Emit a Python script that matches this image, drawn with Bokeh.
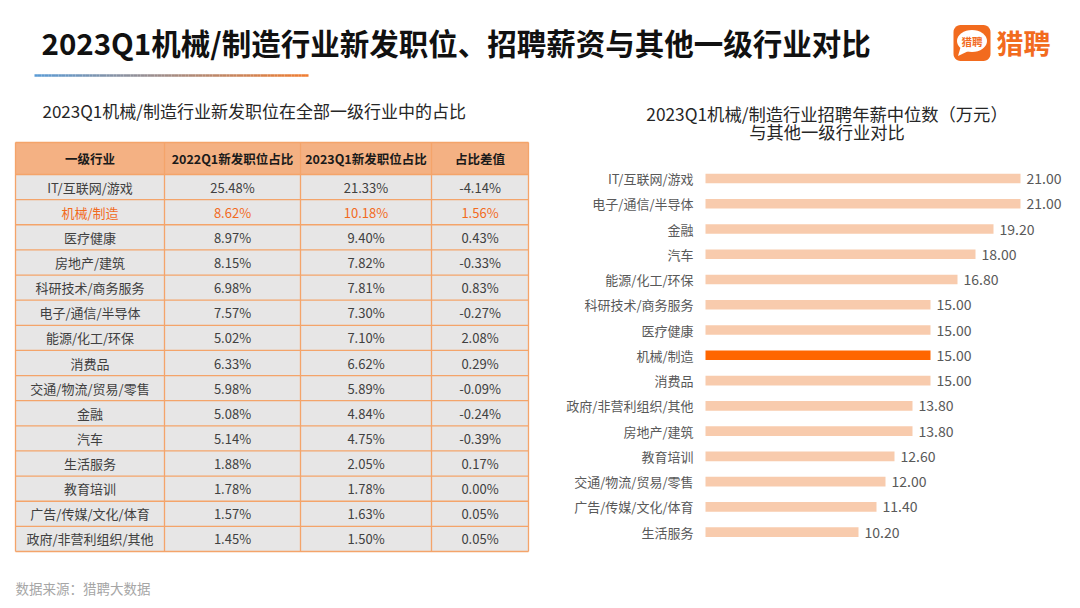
from bokeh.plotting import figure
from bokeh.models import ColumnDataSource, Range1d
from bokeh.layouts import column, row
from bokeh.embed import file_html
from bokeh.resources import INLINE
from bokeh.core.properties import value
import numpy as np

FONT = "Noto Sans CJK SC"

# ---------------- data ----------------
title_text = "2023Q1机械/制造行业新发职位、招聘薪资与其他一级行业对比"
table_title = "2023Q1机械/制造行业新发职位在全部一级行业中的占比"
bar_title = ["2023Q1机械/制造行业招聘年薪中位数（万元）", "与其他一级行业对比"]
source_note = "数据来源：猎聘大数据"
brand = "猎聘"
highlight = "机械/制造"

table_header = ["一级行业", "2022Q1新发职位占比", "2023Q1新发职位占比", "占比差值"]
table_industries = ["IT/互联网/游戏", "机械/制造", "医疗健康", "房地产/建筑", "科研技术/商务服务",
                    "电子/通信/半导体", "能源/化工/环保", "消费品", "交通/物流/贸易/零售", "金融",
                    "汽车", "生活服务", "教育培训", "广告/传媒/文化/体育", "政府/非营利组织/其他"]
share_2022 = [25.48, 8.62, 8.97, 8.15, 6.98, 7.57, 5.02, 6.33, 5.98, 5.08, 5.14, 1.88, 1.78, 1.57, 1.45]
share_2023 = [21.33, 10.18, 9.40, 7.82, 7.81, 7.30, 7.10, 6.62, 5.89, 4.84, 4.75, 2.05, 1.78, 1.63, 1.50]
share_diff = [-4.14, 1.56, 0.43, -0.33, 0.83, -0.27, 2.08, 0.29, -0.09, -0.24, -0.39, 0.17, 0.00, 0.05, 0.05]

salary_industries = ["IT/互联网/游戏", "电子/通信/半导体", "金融", "汽车", "能源/化工/环保",
                     "科研技术/商务服务", "医疗健康", "机械/制造", "消费品", "政府/非营利组织/其他",
                     "房地产/建筑", "教育培训", "交通/物流/贸易/零售", "广告/传媒/文化/体育", "生活服务"]
salary_median = [21.00, 21.00, 19.20, 18.00, 16.80, 15.00, 15.00, 15.00, 15.00, 13.80,
                 13.80, 12.60, 12.00, 11.40, 10.20]

# ---------------- helpers ----------------
ORANGE = "#f26b1e"


def blank(w, h, xr, yr):
    p = figure(width=w, height=h, x_range=Range1d(*xr), y_range=Range1d(*yr),
               output_backend="svg", toolbar_location=None,
               x_axis_location=None, y_axis_location=None,
               min_border=0, min_border_left=0, min_border_right=0,
               min_border_top=0, min_border_bottom=0)
    p.grid.visible = False
    p.outline_line_color = None
    p.background_fill_color = "white"
    p.border_fill_color = "white"
    return p


def txt(p, x, y, t, size, color, align="left", bold=False, **kw):
    p.text(x=[x], y=[y], text=[t], text_font=value(FONT), text_font_size=size,
           text_color=color, text_align=align, text_baseline="middle",
           text_font_style="bold" if bold else "normal", **kw)


def rounded_rect(x0, y0, x1, y1, r, n=8):
    xs, ys = [], []
    corners = [(x1 - r, y0 + r, -90, 0), (x1 - r, y1 - r, 0, 90),
               (x0 + r, y1 - r, 90, 180), (x0 + r, y0 + r, 180, 270)]
    for cx, cy, a0, a1 in corners:
        for a in np.linspace(np.radians(a0), np.radians(a1), n):
            xs.append(cx + r * np.cos(a))
            ys.append(cy + r * np.sin(a))
    return xs, ys


# ---------------- top band (title + logo) ----------------
top = blank(1072, 88, (0, 1072), (88, 0))
txt(top, 41, 41, title_text, "29.5px", "#111111", bold=True)

# gradient underline
n = 80
gx = np.linspace(34, 308, n + 1)
c0 = np.array([0x5b, 0x9b, 0xd5])
c1 = np.array([0xf0, 0x7d, 0x31])
cols = []
for t in np.linspace(0, 1, n):
    c = (c0 + (c1 - c0) * t).astype(int)
    cols.append("#%02x%02x%02x" % tuple(c))
top.segment(x0=gx[:-1], y0=[75] * n, x1=gx[1:], y1=[75] * n, line_color=cols, line_width=2.5)

# logo
lx, ly = rounded_rect(953, 24.5, 990, 60.5, 7)
top.patch(lx, ly, fill_color=ORANGE, line_color=None)
top.ellipse(x=[971.5], y=[40.5], width=[30], height=[22], fill_color="white", line_color=None)
top.patch([960, 957.5, 968], [47, 55.5, 50.5], fill_color="white", line_color=None)
txt(top, 971.5, 40.5, brand, "10.5px", ORANGE, align="center", bold=True)
txt(top, 996, 42, brand, "27px", ORANGE, bold=True)

# ---------------- left: table ----------------
left = blank(550, 512, (0, 550), (600, 88))
txt(left, 42, 110, table_title, "17px", "#262626")

col_edges = [15, 164, 300, 431, 528]
head_top, head_bot = 142, 174
row_h = (551 - head_bot) / len(table_industries)
nrows = len(table_industries)

left.quad(left=col_edges[:-1], right=col_edges[1:], top=[head_top] * 4, bottom=[head_bot] * 4,
          fill_color="#f4b183", line_color=None)
left.quad(left=[col_edges[0]], right=[col_edges[-1]], top=[head_bot], bottom=[head_bot + row_h * nrows],
          fill_color="#e7e6e6", line_color=None)

line_col = "#f4a46a"
hy = [head_top, head_bot] + [head_bot + row_h * (k + 1) for k in range(nrows)]
left.segment(x0=[col_edges[0]] * len(hy), x1=[col_edges[-1]] * len(hy), y0=hy, y1=hy,
             line_color=line_col, line_width=1.3)
left.segment(x0=col_edges, x1=col_edges, y0=[head_top] * len(col_edges), y1=[hy[-1]] * len(col_edges),
             line_color=line_col, line_width=1.3)

centers = [(col_edges[j] + col_edges[j + 1]) / 2 for j in range(4)]
left.text(x=centers, y=[(head_top + head_bot) / 2] * 4, text=table_header,
          text_font=value(FONT), text_font_size="12.5px", text_font_style="bold",
          text_color="#1a1a1a", text_align="center", text_baseline="middle")

ys = [head_bot + row_h * (i + 0.5) for i in range(nrows)]
row_colors = [ORANGE if name == highlight else "#404040" for name in table_industries]
columns_text = [table_industries,
                ["%.2f%%" % v for v in share_2022],
                ["%.2f%%" % v for v in share_2023],
                ["%.2f%%" % v for v in share_diff]]
for j, texts in enumerate(columns_text):
    src = ColumnDataSource(dict(x=[centers[j]] * nrows, y=ys, t=texts, c=row_colors))
    left.text(x="x", y="y", text="t", source=src, text_font=value(FONT),
              text_font_size="13px", text_color="c", text_align="center", text_baseline="middle")

txt(left, 15, 587, source_note, "13.5px", "#a6a6a6")

# ---------------- right: bar chart ----------------
X0, PX = 705, 15.0          # bar origin (page px) and px per unit
Y0, PY = 178, 25.26         # first row centre (page px) and row pitch
right = blank(522, 512, ((550 - X0) / PX, (1072 - X0) / PX), ((600 - Y0) / PY, (88 - Y0) / PY))

tx = (826.5 - X0) / PX
txt(right, tx, (112.5 - Y0) / PY, bar_title[0], "17.3px", "#262626", align="center")
txt(right, tx, (131 - Y0) / PY, bar_title[1], "17.3px", "#262626", align="center")

bsrc = ColumnDataSource(dict(
    idx=list(range(len(salary_industries))),
    cat=salary_industries,
    val=salary_median,
    lab=["%.2f" % v for v in salary_median],
    color=["#ff6600" if c == highlight else "#f8cbad" for c in salary_industries],
    zero=[0] * len(salary_industries),
))
right.hbar(y="idx", left="zero", right="val", height=0.38, fill_color="color", line_color=None, source=bsrc)
right.text(x="zero", y="idx", text="cat", source=bsrc, x_offset=-12, text_align="right",
           text_baseline="middle", text_font=value(FONT), text_font_size="13px", text_color="#595959")
right.text(x="val", y="idx", text="lab", source=bsrc, x_offset=6, text_align="left",
           text_baseline="middle", text_font=value(FONT), text_font_size="14px", text_color="#595959")

layout = column(top, row(left, right))
open("out.html", "w").write(file_html(layout, INLINE))
